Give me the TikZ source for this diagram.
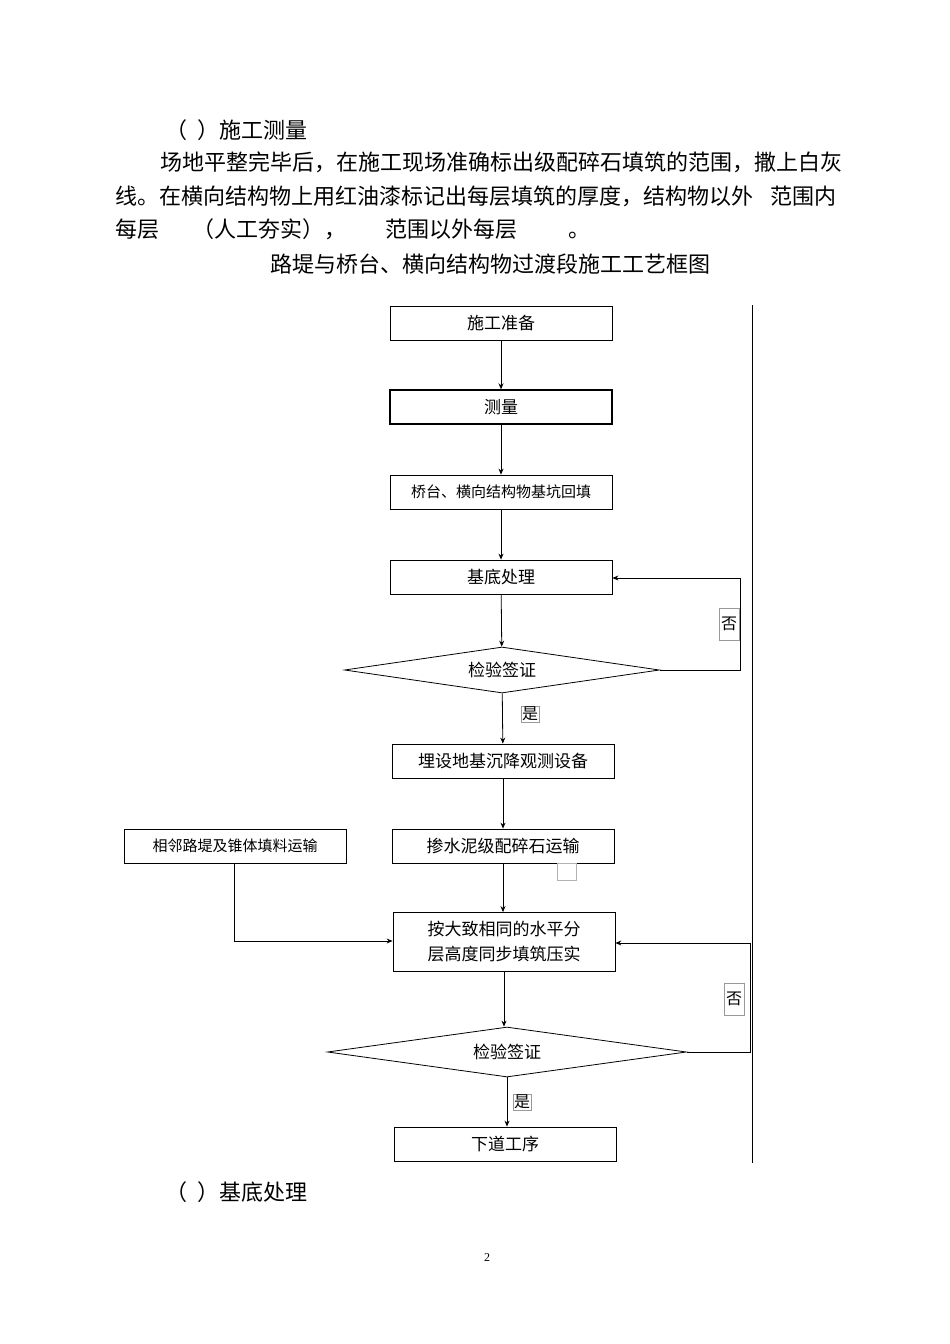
\documentclass[tikz,border=0pt]{standalone}
\usepackage{fontspec}
\setmainfont{Liberation Serif}
\newfontfamily\cjk{Noto Sans CJK SC}
\usetikzlibrary{arrows.meta,shapes.geometric}
\begin{document}
\begin{tikzpicture}[x=1pt,y=-1pt,
 every node/.style={font=\cjk\fontsize{17}{20}\selectfont},
 box/.style={draw,thick,minimum width=222pt,minimum height=34pt,inner sep=0pt},
 dia/.style={draw,thick,diamond,aspect=6.8,inner sep=1pt},
 arr/.style={-{Stealth[length=6pt,width=5pt]},thick},
 txt/.style={font=\cjk\fontsize{22}{24}\selectfont,anchor=west,inner sep=0pt},
 lab/.style={draw=black!40,thin,inner sep=1pt,font=\cjk\fontsize{16}{18}\selectfont}]
\useasboundingbox (0,0) rectangle (950,1344);
\node[txt] (t1) at (165,130) {（\ \ ）施工测量};
\node[txt] (p1) at (160,162) {场地平整完毕后，在施工现场准确标出级配碎石填筑的范围，撒上白灰};
\node[txt] (p2) at (115,196) {线。在横向结构物上用红油漆标记出每层填筑的厚度，结构物以外\hspace{17pt}范围内};
\node[txt] (p3) at (115,229) {每层\hspace{33pt}（人工夯实），\hspace{39pt}范围以外每层\hspace{51pt}。};
\node[txt,anchor=center] (title) at (490,264) {路堤与桥台、横向结构物过渡段施工工艺框图};
\coordinate (vt) at (752,305); \coordinate (vb) at (752,1163);
\draw[thin] (vt) -- (vb);
\node[box] (b1) at (501,323) {施工准备};
\node[box,line width=1.4pt] (b2) at (501,407) {测量};
\node[box,font=\cjk\fontsize{15}{17}\selectfont] (b3) at (501,492) {桥台、横向结构物基坑回填};
\node[box] (b4) at (501,577) {基底处理};
\node[dia,minimum width=315pt,minimum height=46pt] (d1) at (502,670) {检验签证};
\node[lab,minimum width=20pt,minimum height=32pt] (n1) at (729,624) {否};
\node[lab] (y1) at (530,714) {是};
\node[box] (b5) at (503,761) {埋设地基沉降观测设备};
\node[box] (b6) at (503,846) {掺水泥级配碎石运输};
\node[box,font=\cjk\fontsize{15}{17}\selectfont] (bl) at (235,846) {相邻路堤及锥体填料运输};
\node[draw=black!30,thin,minimum width=19pt,minimum height=17pt,inner sep=0pt] (e1) at (567,872) {};
\node[box,minimum height=59pt,align=center,font=\cjk\fontsize{17}{25}\selectfont] (b7) at (504,942) {按大致相同的水平分\\层高度同步填筑压实};
\node[dia,minimum width=359pt,minimum height=50pt] (d2) at (507,1052) {检验签证};
\node[lab,minimum width=20pt,minimum height=32pt] (n2) at (734,999) {否};
\node[lab] (y2) at (522,1102) {是};
\node[box] (b8) at (505,1144) {下道工序};
\node[txt] (t2) at (165,1192) {（\ \ ）基底处理};
\node[font=\fontsize{12}{14}\selectfont] (pg) at (487,1258) {2};
\draw[arr] (b1) -- (b2);
\draw[arr] (b2) -- (b3);
\draw[arr] (b3) -- (b4);
\draw[arr] (b4) -- (d1);
\draw[arr] (d1) -- (b5);
\draw[arr] (b5.south) -- (b6.north);
\draw[arr] (b6.south) -- (b6.south |- b7.north);
\draw[arr] (b7.south) -- (b7.south |- d2.north);
\draw[arr] (d2.south) -- (d2.south |- b8.north);
\coordinate (f1a) at (740,670); \coordinate (f1b) at (740,578);
\draw[arr] (d1.east) -- (f1a) -- (f1b) -- (b4.east |- f1b);
\coordinate (f2a) at (750,1052); \coordinate (f2b) at (750,943);
\draw[arr] (d2.east) -- (f2a) -- (f2b) -- (b7.east |- f2b);
\coordinate (la) at (234,941);
\draw[arr] (bl.south -| la) -- (la) -- (b7.west |- la);
\end{tikzpicture}
\end{document}
